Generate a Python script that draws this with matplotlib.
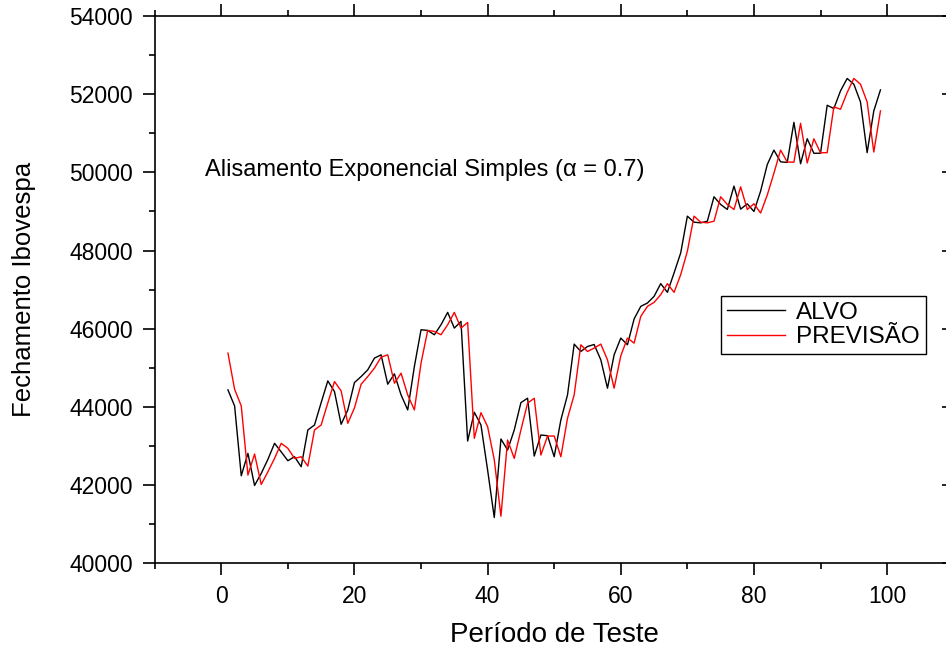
import matplotlib
matplotlib.use("Agg")
import matplotlib.pyplot as plt
from matplotlib.ticker import MultipleLocator

# Período de teste (1..99)
periodo = list(range(1, 100))

# Fechamento real do Ibovespa (ALVO)
alvo = [
    44436, 44025, 42239, 42812, 41991, 42300, 42658, 43069, 42850, 42624,
    42726, 42470, 43410, 43538, 44110, 44666, 44393, 43556, 43923, 44623,
    44777, 44949, 45248, 45333, 44581, 44846, 44308, 43923, 45034, 45974,
    45957, 45846, 46102, 46418, 46017, 46187, 43128, 43864, 43538, 42384,
    41171, 43180, 42897, 43410, 44110, 44223, 42743, 43282, 43264, 42726,
    43667, 44308, 45607, 45418, 45546, 45597, 45205, 44479, 45333, 45761,
    45590, 46250, 46572, 46658, 46828, 47154, 46931, 47427, 47940, 48880,
    48726, 48709, 48751, 49376, 49179, 49051, 49649, 49060, 49195, 49000,
    49520, 50200, 50570, 50270, 50255, 51280, 50220, 50860, 50488, 50490,
    51717, 51632, 52084, 52402, 52256, 51802, 50505, 51572, 52110,
]

# Previsão do alisamento exponencial simples
previsao = [
    45377, 44453, 44025, 42256, 42795, 42017, 42341, 42684, 43069, 42941,
    42684, 42726, 42487, 43410, 43538, 44102, 44649, 44410, 43581, 43975,
    44580, 44777, 44992, 45274, 45333, 44607, 44863, 44308, 43923, 45120,
    45957, 45931, 45846, 46102, 46418, 46017, 46161, 43197, 43854, 43495,
    42650, 41205, 43154, 42684, 43410, 44094, 44223, 42769, 43256, 43256,
    42726, 43710, 44308, 45590, 45418, 45505, 45607, 45205, 44479, 45307,
    45761, 45633, 46315, 46572, 46674, 46872, 47154, 46931, 47384, 47982,
    48880, 48726, 48709, 48751, 49376, 49179, 49051, 49630, 49051, 49197,
    48960, 49420, 49980, 50570, 50265, 50260, 51255, 50240, 50858, 50500,
    50505, 51675, 51615, 52043, 52402, 52256, 51802, 50520, 51572,
]

W, H = 946, 648


def desenhar():
    plt.rcParams["font.family"] = ["Liberation Sans", "DejaVu Sans"]
    fig = plt.figure(figsize=(W / 100, H / 100), dpi=100)
    # eixo direito fica um pouco fora da imagem, como no original
    ax = fig.add_axes([154.7 / W, (H - 563.3) / H, 799 / W, 547.3 / H])

    ax.plot(periodo, alvo, color="black", lw=1.0, label="ALVO")
    ax.plot(periodo, previsao, color="red", lw=1.0, label="PREVISÃO")

    ax.set_xlim(-10, 110)
    ax.set_ylim(40000, 54000)
    ax.xaxis.set_major_locator(MultipleLocator(20))
    ax.xaxis.set_minor_locator(MultipleLocator(10))
    ax.yaxis.set_major_locator(MultipleLocator(2000))
    ax.yaxis.set_minor_locator(MultipleLocator(1000))

    ax.tick_params(which="both", direction="out", top=True, right=False,
                   width=1.2, labelsize=16.5, colors="black")
    ax.tick_params(which="major", length=8.5, pad=7)
    ax.tick_params(which="minor", length=4.5)
    for sp in ax.spines.values():
        sp.set_linewidth(1.2)

    # ticks do lado direito apontam para dentro
    dir_ax = ax.secondary_yaxis("right")
    dir_ax.yaxis.set_major_locator(MultipleLocator(2000))
    dir_ax.yaxis.set_minor_locator(MultipleLocator(1000))
    dir_ax.tick_params(which="both", direction="in", labelright=False, width=1.2)
    dir_ax.tick_params(which="major", length=8.5)
    dir_ax.tick_params(which="minor", length=4.5)

    ax.set_xlabel("Período de Teste", fontsize=20, labelpad=10)
    ax.set_ylabel("Fechamento Ibovespa", fontsize=18.5, labelpad=24)

    ax.text(-2.5, 50060, "Alisamento Exponencial Simples (α = 0.7)",
            fontsize=17, ha="left", va="center")

    leg = ax.legend(loc="upper left", bbox_to_anchor=(720.7 / W, 1 - 295.7 / H),
                    bbox_transform=fig.transFigure, fancybox=False,
                    edgecolor="black", framealpha=1, borderaxespad=0,
                    handlelength=2.4, handletextpad=0.45, labelspacing=0.1,
                    borderpad=0.25, fontsize=17.5)
    leg.get_frame().set_linewidth(1.0)

    fig.savefig("out.png", dpi=100)
    plt.close(fig)


if __name__ == "__main__":
    desenhar()
